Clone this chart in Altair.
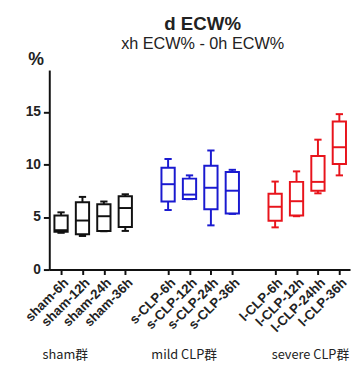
import altair as alt
import pandas as pd

names = ["sham-6h", "sham-12h", "sham-24h", "sham-36h",
         "s-CLP-6h", "s-CLP-12h", "s-CLP-24h", "s-CLP-36h",
         "l-CLP-6h", "l-CLP-12h", "l-CLP-24hh", "l-CLP-36h"]
positions = [0, 1, 2, 3, 5, 6, 7, 8, 10, 11, 12, 13]
groups = ["sham", "sham", "sham", "sham",
          "mild", "mild", "mild", "mild",
          "severe", "severe", "severe", "severe"]
mins = [3.5, 3.2, 3.65, 3.68, 5.67, 6.7, 4.21, 5.3, 4.02, 5.08, 7.26, 8.97]
q1s = [3.6, 3.36, 3.68, 4.05, 6.49, 6.73, 5.74, 5.33, 4.64, 5.14, 7.51, 10.06]
medians = [3.75, 4.67, 5.08, 5.86, 8.13, 7.14, 7.79, 7.51, 5.98, 6.51, 8.35, 11.65]
q3s = [5.14, 6.42, 6.23, 6.98, 9.69, 8.66, 9.88, 9.29, 7.23, 8.35, 10.81, 14.1]
maxs = [5.45, 6.92, 6.48, 7.17, 10.53, 8.97, 11.34, 9.5, 8.38, 9.35, 12.37, 14.8]

group_labels = ["sham群", "mild CLP群", "severe CLP群"]
group_label_x = [0.2, 5.75, 11.65]

color_domain = ["sham", "mild", "severe"]
color_range = ["#111111", "#1a1ad0", "#e8141c"]

df = pd.DataFrame({"name": names, "pos": positions, "group": groups,
                   "min": mins, "q1": q1s, "median": medians,
                   "q3": q3s, "max": maxs})
gl = pd.DataFrame({"label": group_labels, "x": group_label_x})

label_expr = "[" + ",".join(f"'{n}'" for n in names) + "]"
pos_list = "[" + ",".join(str(p) for p in positions) + "]"
lab_expr = f"{label_expr}[indexof({pos_list}, datum.value)]"

xscale = alt.Scale(domain=[-0.55, 13.5], nice=False, zero=False)
yscale = alt.Scale(domain=[0, 19], nice=False)
cscale = alt.Scale(domain=color_domain, range=color_range)

x_axis = alt.Axis(values=positions, labelExpr=lab_expr, labelAngle=-45,
                  labelOverlap=False, labelFlush=False,
                  labelFont="Liberation Sans", labelFontSize=13.5, labelFontWeight="bold",
                  labelColor="#222", labelPadding=1, tickSize=5, tickWidth=2,
                  tickColor="#111", domainColor="#111", domainWidth=2,
                  grid=False, title=None)
y_axis = alt.Axis(values=[0, 5, 10, 15], labelFont="Liberation Sans", labelFontSize=14,
                  labelFontWeight="bold", labelColor="#222", labelPadding=3,
                  tickSize=6, tickWidth=2, tickColor="#111", domainColor="#111",
                  domainWidth=2, grid=False, title="%", titleAngle=0,
                  titleAlign="center", titleBaseline="bottom", titleX=-14, titleY=-2,
                  titleFont="Liberation Sans", titleFontSize=18, titleFontWeight="bold",
                  titleColor="#222")


def X(f):
    return alt.X(f, scale=xscale, axis=x_axis)


def Y(f):
    return alt.Y(f, scale=yscale, axis=y_axis)


base = alt.Chart(df).transform_calculate(
    xl="datum.pos - 0.31", xr="datum.pos + 0.31",
    cl="datum.pos - 0.17", cr="datum.pos + 0.17")

color = alt.Color("group:N", scale=cscale, legend=None)

whisker = base.mark_rule(strokeWidth=2).encode(
    x=X("pos:Q"), y=Y("min:Q"), y2="max:Q", color=color)
box = base.mark_rect(fill="white", strokeWidth=2).encode(
    x=X("xl:Q"), x2="xr:Q", y=Y("q1:Q"), y2="q3:Q",
    stroke=alt.Stroke("group:N", scale=cscale, legend=None))
med = base.mark_rule(strokeWidth=2).encode(
    x=X("xl:Q"), x2="xr:Q", y=Y("median:Q"), color=color)
capmin = base.mark_rule(strokeWidth=2).encode(
    x=X("cl:Q"), x2="cr:Q", y=Y("min:Q"), color=color)
capmax = base.mark_rule(strokeWidth=2).encode(
    x=X("cl:Q"), x2="cr:Q", y=Y("max:Q"), color=color)

glabels = alt.Chart(gl).mark_text(font="Noto Sans CJK SC", fontSize=13, color="#222",
                                  align="center", baseline="middle").encode(
    x=X("x:Q"), y=alt.value(290), text="label:N")

chart = alt.layer(whisker, box, med, capmin, capmax, glabels).properties(
    width=306, height=203,
    autosize=alt.AutoSizeParams(type="none"),
    padding={"left": 42, "top": 60, "right": 3, "bottom": 96},
    title=alt.TitleParams(text="d ECW%", subtitle="xh ECW% - 0h ECW%",
                          font="Liberation Sans", fontSize=19, fontWeight="bold",
                          color="#222", subtitleFont="Liberation Sans",
                          subtitleFontSize=16.5, subtitleColor="#222",
                          anchor="middle", offset=-2, dx=3, subtitlePadding=2)
).configure_view(stroke=None).configure_axis(labelOverlap=False)

chart.save("out.html", embed_options={"renderer": "svg", "actions": False})
